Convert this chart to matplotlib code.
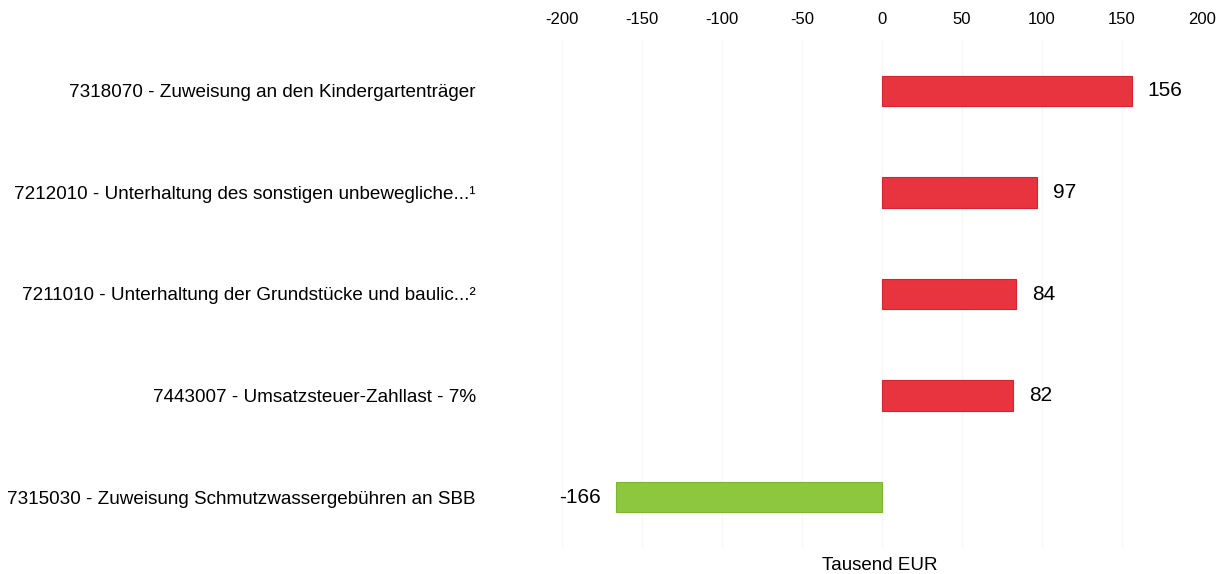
import matplotlib.pyplot as plt
import numpy as np

categories = [
    "7318070 - Zuweisung an den Kindergartenträger",
    "7212010 - Unterhaltung des sonstigen unbewegliche...¹",
    "7211010 - Unterhaltung der Grundstücke und baulic...²",
    "7443007 - Umsatzsteuer-Zahllast - 7%",
    "7315030 - Zuweisung Schmutzwassergebühren an SBB",
]
values = [156, 97, 84, 82, -166]
xticks = [-200, -150, -100, -50, 0, 50, 100, 150, 200]

RED = "#e8343e"
GREEN = "#8dc63f"

plt.rcParams["font.family"] = ["Liberation Sans", "DejaVu Sans"]

fig = plt.figure(figsize=(12.22, 5.74), dpi=100)
ax = fig.add_axes([562 / 1222, 1 - 548 / 574, 640 / 1222, 508 / 574])

y = np.arange(len(categories))
colors = [RED if v > 0 else GREEN for v in values]
edges = ["#d8222c" if v > 0 else "#7cb530" for v in values]
ax.barh(y, values, height=0.3, color=colors, edgecolor=edges, linewidth=0.8, zorder=2)

# value labels next to the bar ends
for yi, v in zip(y, values):
    if v >= 0:
        ax.text(v + 10, yi, f"{v}", va="center", ha="left", fontsize=15)
    else:
        ax.text(v - 10, yi, f"{v}", va="center", ha="right", fontsize=15)

ax.set_xlim(-200, 200)
ax.set_ylim(len(categories) - 0.5, -0.5)
ax.set_xticks(xticks)
ax.set_xticklabels([str(t) for t in xticks], fontsize=12)
ax.xaxis.tick_top()
ax.tick_params(axis="x", length=0, pad=9)
ax.set_yticks(y)
ax.set_yticklabels(categories, fontsize=13.6)
ax.tick_params(axis="y", length=0, pad=62)
ax.grid(axis="x", color="#f7f7f7", linewidth=0.8, zorder=0)
for s in ax.spines.values():
    s.set_visible(False)

fig.text(880 / 1222, 1 - 565 / 574, "Tausend EUR", ha="center", va="center", fontsize=13.5)

fig.savefig("out.png", dpi=100)
